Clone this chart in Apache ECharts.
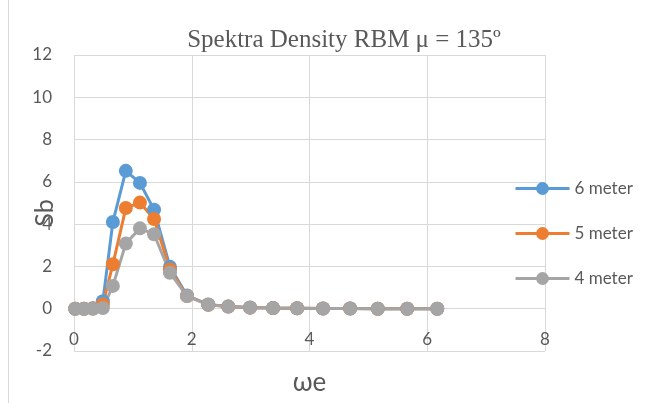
<!DOCTYPE html>
<html><head><meta charset="utf-8">
<script src="https://cdn.jsdelivr.net/npm/echarts@6/dist/echarts.min.js"></script>
<style>html,body{margin:0;padding:0;background:#fff}#c{width:669px;height:403px}</style>
</head><body><div id="c"></div>
<script>
var omegaE = [0.02, 0.17, 0.32, 0.49, 0.66, 0.88, 1.12, 1.36, 1.63, 1.92, 2.28, 2.62, 2.99, 3.38, 3.79, 4.23, 4.69, 5.16, 5.66, 6.17];
var s6 = [0, 0, 0.02, 0.35, 4.1, 6.52, 5.95, 4.68, 1.98, 0.62, 0.2, 0.1, 0.06, 0.03, 0.02, 0.01, 0.01, 0.0, 0.0, 0.0];
var s5 = [0, 0, 0.01, 0.2, 2.1, 4.76, 5.02, 4.24, 1.86, 0.6, 0.19, 0.1, 0.05, 0.03, 0.02, 0.01, 0.01, 0.0, 0.0, 0.0];
var s4 = [0, 0, 0.0, 0.03, 1.08, 3.08, 3.8, 3.52, 1.7, 0.6, 0.19, 0.1, 0.05, 0.03, 0.02, 0.01, 0.01, 0.0, 0.0, 0.0];
var seriesNames = ['6 meter', '5 meter', '4 meter'];
var colors = ['#5B9BD5', '#ED7D31', '#A5A5A5'];
var titleText = 'Spektra Density RBM \u03bc = 135\u00ba';
var xTitle = '\u03c9e';
var yTitle = 'Sb';

function pairs(ys){ return omegaE.map(function(x,i){ return [x, ys[i]]; }); }
var chart = echarts.init(document.getElementById('c'), null, {renderer:'canvas'});
var font = 'Lato, "Open Sans", sans-serif';
chart.setOption({
  animation:false,
  title:{text:titleText, top:23, left:339, textAlign:'center',
    textStyle:{fontFamily:'"Liberation Serif", "Times New Roman", serif', fontWeight:'normal', fontSize:25, color:'#595959'}},
  grid:{left:74, right:124, top:55, bottom:52, containLabel:false, outerBoundsMode:'none'},
  legend:{orient:'vertical', left:509, top:175, itemGap:28, itemWidth:54, itemHeight:16,
    lineStyle:{width:3},
    data:seriesNames, textStyle:{fontFamily:font, fontSize:17, color:'#595959'}},
  xAxis:{type:'value', min:0, max:8, interval:2,
    name:xTitle, nameLocation:'middle', nameGap:19,
    nameTextStyle:{fontFamily:font, fontSize:26, color:'#595959'},
    axisLine:{show:false},
    axisTick:{show:false},
    axisLabel:{margin:-20, fontFamily:font, fontSize:17, color:'#595959'},
    splitLine:{show:true, lineStyle:{color:'#d9d9d9', width:1}}},
  yAxis:{type:'value', min:-2, max:12, interval:2,
    axisLine:{show:false}, axisTick:{show:false},
    axisLabel:{margin:22, fontFamily:font, fontSize:17, color:'#595959'},
    splitLine:{show:true, lineStyle:{color:'#d9d9d9', width:1}}},
  graphic:[
    {type:'line', shape:{x1:8.5,y1:0,x2:8.5,y2:403}, style:{stroke:'#d9d9d9', lineWidth:1}},
    {type:'text', x:45, y:213, rotation:Math.PI/2,
      style:{text:yTitle, fontFamily:font, fontSize:25, fill:'#595959', align:'center', verticalAlign:'middle'}}
  ],
  series:[s6,s5,s4].map(function(d,i){
    return {name:seriesNames[i], type:'line', data:pairs(d), symbol:'circle', symbolSize:14,
      lineStyle:{color:colors[i], width:3}, itemStyle:{color:colors[i]}};
  })
});
</script></body></html>
